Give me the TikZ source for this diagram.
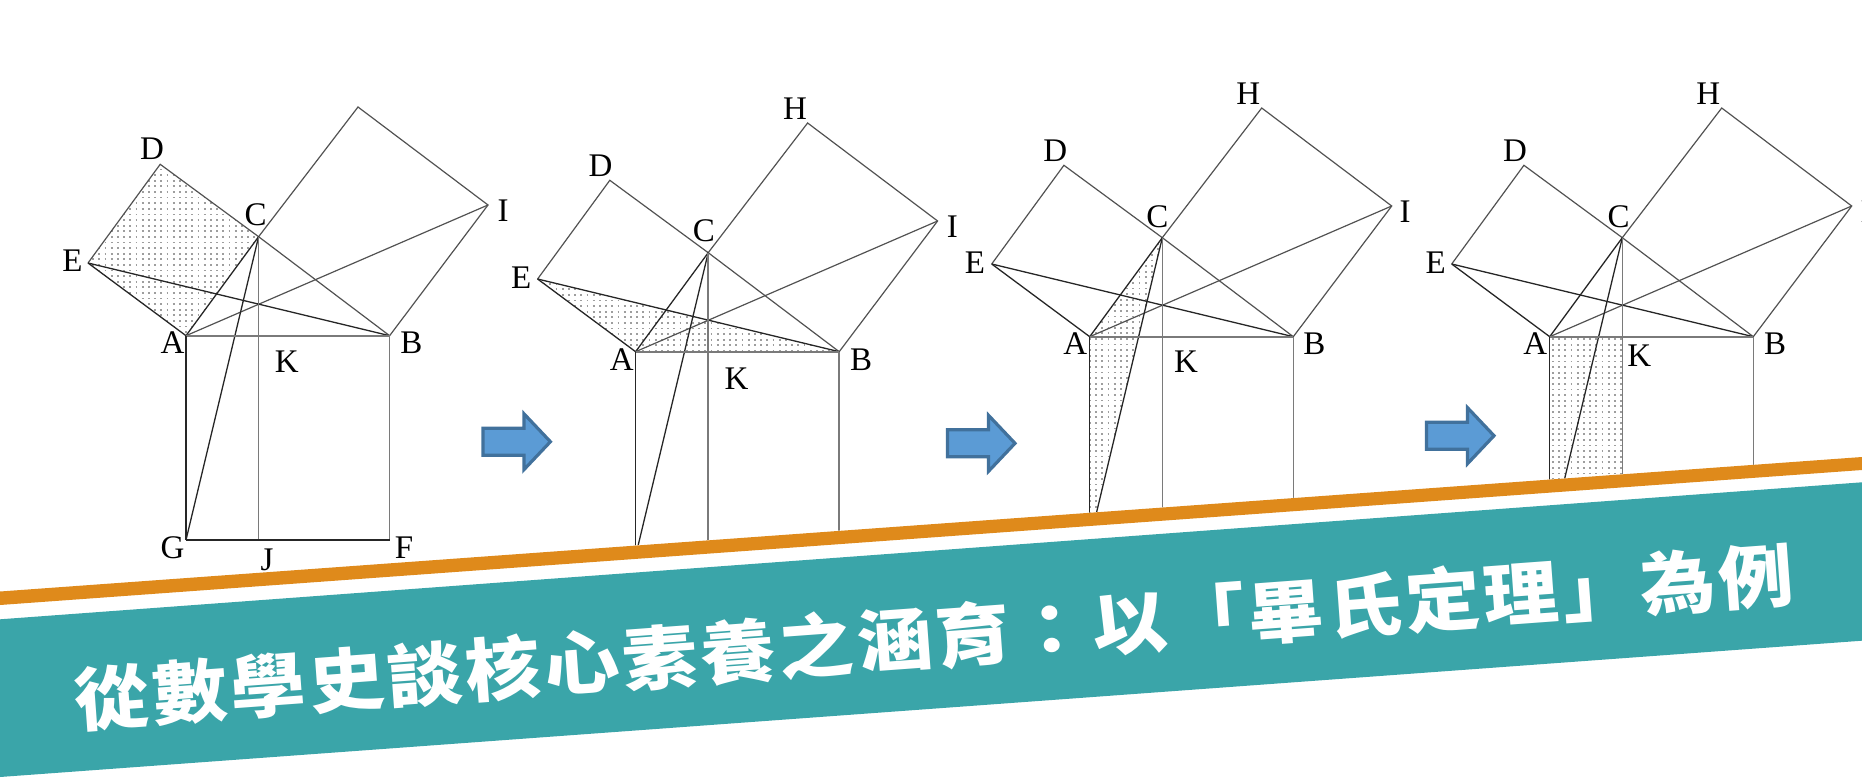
\documentclass[tikz,border=0pt]{standalone}
\usepackage{graphicx}
\usepackage{fontspec}
\setmainfont{Liberation Serif}
\newfontfamily\cjk[LetterSpace=4.7,BoldFont={Noto Sans CJK TC Black}]{Noto Sans CJK TC}
\definecolor{teal1}{HTML}{3AA5A9}
\definecolor{orange1}{HTML}{DF8A1B}
\definecolor{arrowfill}{HTML}{5B9BD5}
\definecolor{arrowline}{HTML}{41719C}
\tikzset{
  thin1/.style={line width=1.2pt,draw=black!68},
  dark1/.style={line width=1.3pt,draw=black!85},
  pale1/.style={line width=1.6pt,draw=black!52},
  lab/.style={font=\fontsize{33}{33}\selectfont,text=black,inner sep=0pt},
  blockarrow/.style={fill=arrowfill,draw=arrowline,line width=3.2pt,miter limit=3},
  dotrow/.style={draw=black!38,line width=1.8pt,dash pattern=on 1.8pt off 4.4pt},
}
% #1 prefix, #2 dx, #3 dy
\newcommand{\figverts}[3]{%
  \coordinate (#1A) at (186+#2,335.7+#3);
  \coordinate (#1B) at (389.6+#2,335.7+#3);
  \coordinate (#1C) at (258.6+#2,236.7+#3);
  \coordinate (#1D) at (160.2+#2,164.3+#3);
  \coordinate (#1E) at (88+#2,263+#3);
  \coordinate (#1H) at (358+#2,107+#3);
  \coordinate (#1I) at (488+#2,205+#3);
  \coordinate (#1G) at (186+#2,540+#3);
  \coordinate (#1F) at (389.6+#2,540+#3);
  \coordinate (#1J) at (258.6+#2,540+#3);
  \coordinate (#1K) at (258.6+#2,335.7+#3);
}
\newcommand{\figlines}[1]{%
  \draw[thin1] (#1C) -- (#1D) -- (#1E);
  \draw[thin1] (#1C) -- (#1H) -- (#1I) -- (#1B);
  \draw[thin1] (#1C) -- (#1B);
  \draw[dark1] (#1E) -- (#1A);
  \draw[dark1] (#1A) -- (#1C);
  \draw[thin1] (#1A) -- (#1I);
  \draw[dark1] (#1E) -- (#1B);
  \draw[dark1] (#1C) -- (#1G);
  \draw[pale1] (#1A) -- (#1B);
  \draw[dark1] (#1A) -- (#1G);
  \draw[pale1] (#1B) -- (#1F);
  \draw[pale1] (#1C) -- (#1J);
  \draw[dark1] (#1G) -- (#1F);
}
% dotted fill: #1 clip path, #2 left, #3 right, #4 top, #5 rows
\newcommand{\dotgrid}[5]{%
  \begin{scope}
    \clip #1;
    \foreach \jj in {0,...,#5}{
      \draw[dotrow] ({#2},{#4+\jj*5.6}) -- ({#3},{#4+\jj*5.6});
    }
  \end{scope}}
\begin{document}
\begin{tikzpicture}[x=1pt,y=-1pt]
\useasboundingbox (0,0) rectangle (1862,778);
\clip (0,0) rectangle (1862,778);
\figverts{p}{0}{0}
\figverts{q}{449.6}{16}
\figverts{r}{903.7}{1}
\figverts{s}{1363.7}{1}
\dotgrid{(pD)--(pC)--(pA)--(pE)--cycle}{86}{262}{164}{32}
\dotgrid{(qE)--(qA)--(qB)--cycle}{537}{842}{278}{14}
\dotgrid{(rC)--(rA)--(rG)--cycle}{1089}{1166}{238}{56}
\dotgrid{(sA)--(sK)--(sJ)--(sG)--cycle}{1552}{1624}{339}{38}
\figlines{p}\figlines{q}\figlines{r}\figlines{s}
% labels fig 1
\node[lab] (p1) at (152,149) {D};
\node[lab] (p2) at (255.7,215) {C};
\node[lab] (p3) at (72.5,261) {E};
\node[lab] (p4) at (503,211) {I};
\node[lab] (p5) at (172.5,343) {A};
\node[lab] (p6) at (411.4,343) {B};
\node[lab] (p7) at (286.8,362) {K};
\node[lab] (p8) at (172.5,547.7) {G};
\node[lab] (p9) at (404,547.7) {F};
\node[lab] (p10) at (267,560) {J};
% fig 2
\node[lab] (q1) at (795,108.7) {H};
\node[lab] (q2) at (600.5,165.7) {D};
\node[lab] (q3) at (703.8,231) {C};
\node[lab] (q4) at (952.4,226.7) {I};
\node[lab] (q5) at (521.3,277.3) {E};
\node[lab] (q6) at (621.8,360) {A};
\node[lab] (q7) at (861,359.3) {B};
\node[lab] (q8) at (736.5,378.7) {K};
% fig 3
\node[lab] (r1) at (1248.3,93.7) {H};
\node[lab] (r2) at (1055.3,150.7) {D};
\node[lab] (r3) at (1157.3,216.7) {C};
\node[lab] (r4) at (1405,211.7) {I};
\node[lab] (r5) at (975,262.7) {E};
\node[lab] (r6) at (1075.3,343.3) {A};
\node[lab] (r7) at (1314.3,343.3) {B};
\node[lab] (r8) at (1186,361.7) {K};
% fig 4
\node[lab] (s1) at (1708.3,93.7) {H};
\node[lab] (s2) at (1515,150.7) {D};
\node[lab] (s3) at (1618.7,216.7) {C};
\node[lab] (s4) at (1866,211.7) {I};
\node[lab] (s5) at (1435.7,262.7) {E};
\node[lab] (s6) at (1535.3,343.3) {A};
\node[lab] (s7) at (1775,343.3) {B};
\node[lab] (s8) at (1639.3,356) {K};
% arrows
\foreach \ax/\ay in {481.4/441.7,946/443.3,1425/435.7}{
  \draw[blockarrow] (\ax+1.5,\ay-13.5) -- (\ax+42.5,\ay-13.5) -- (\ax+42.5,\ay-28) -- (\ax+69,\ay) -- (\ax+42.5,\ay+28) -- (\ax+42.5,\ay+13.5) -- (\ax+1.5,\ay+13.5) -- cycle;
}
% bands
\fill[white] (0,591) -- (1862,457) -- (1862,778) -- (0,778) -- cycle;
\fill[orange1] (0,591.5) -- (1862,457) -- (1862,470) -- (0,605) -- cycle;
\fill[teal1] (0,619.3) -- (1862,482.3) -- (1862,640.7) -- (0,777) -- cycle;
\node[rotate=4.19,text=white,inner sep=0pt] (title) at (934,637) {\scalebox{1}[0.92]{\cjk\bfseries\fontsize{75}{75}\selectfont 從數學史談核心素養之涵育：以「畢氏定理」為例}};
\end{tikzpicture}
\end{document}
